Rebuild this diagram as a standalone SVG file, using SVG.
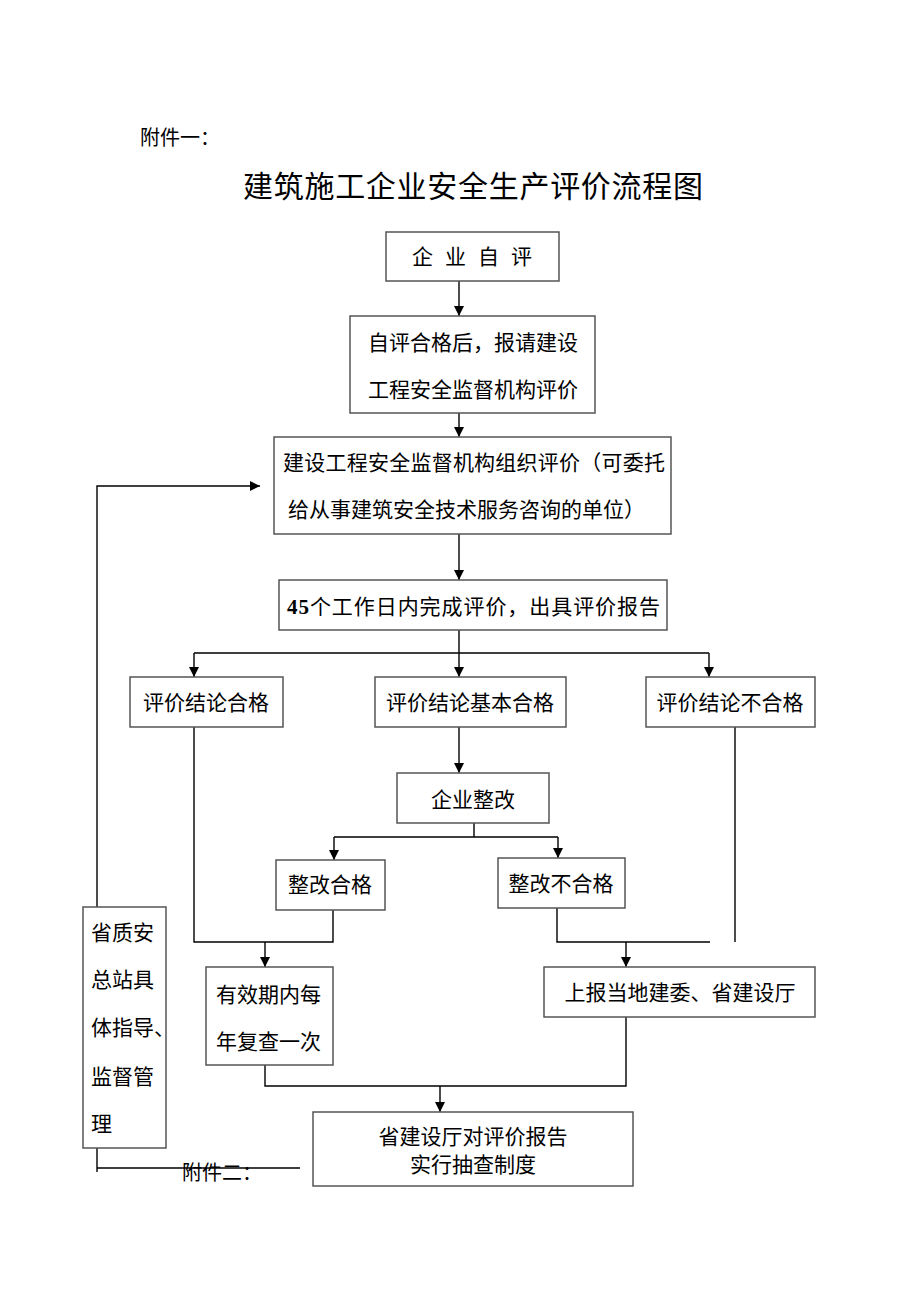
<svg xmlns="http://www.w3.org/2000/svg" width="920" height="1302" viewBox="0 0 920 1302">
<style>
text{font-family:"Noto Sans CJK SC","Noto Sans",sans-serif;font-size:21px;fill:#000}
.c{text-anchor:middle}
.box{fill:#fff;stroke:#555;stroke-width:1.5}
.ln{fill:none;stroke:#000;stroke-width:1.4}
</style>
<defs>
<marker id="ah" viewBox="0 0 10 10" refX="10" refY="5" markerWidth="10" markerHeight="10" markerUnits="userSpaceOnUse" orient="auto">
<path d="M0,0 L10,5 L0,10 z" fill="#000"/>
</marker>
</defs>
<rect width="920" height="1302" fill="#fff"/>
<text x="140" y="145" style="font-size:20px">附件一：</text>
<text x="473" y="197" class="c" style="font-size:30px" textLength="460">建筑施工企业安全生产评价流程图</text>

<g id="connectors">
<path class="ln" d="M459,281 V316" marker-end="url(#ah)"/>
<path class="ln" d="M459,413 V437" marker-end="url(#ah)"/>
<path class="ln" d="M459,534 V580" marker-end="url(#ah)"/>
<path class="ln" d="M459,630 V653 M194,653 H709"/>
<path class="ln" d="M194,653 V677" marker-end="url(#ah)"/>
<path class="ln" d="M459,653 V677" marker-end="url(#ah)"/>
<path class="ln" d="M709,653 V677" marker-end="url(#ah)"/>
<path class="ln" d="M459,727 V773" marker-end="url(#ah)"/>
<path class="ln" d="M474,823 V837 M334,837 H558"/>
<path class="ln" d="M334,837 V860" marker-end="url(#ah)"/>
<path class="ln" d="M558,837 V858" marker-end="url(#ah)"/>
<path class="ln" d="M194,727 V942 H333 V910"/>
<path class="ln" d="M265,942 V967" marker-end="url(#ah)"/>
<path class="ln" d="M557,908 V942 H710"/>
<path class="ln" d="M735,727 V942"/>
<path class="ln" d="M626,942 V967" marker-end="url(#ah)"/>
<path class="ln" d="M265,1065 V1086 H626 V1017"/>
<path class="ln" d="M440,1086 V1112" marker-end="url(#ah)"/>
<path class="ln" d="M97,907 V486 H260" marker-end="url(#ah)"/>
<path class="ln" d="M97,1148 V1172 M97,1168 H300"/>
</g>

<g id="n1"><rect class="box" x="386" y="232" width="173" height="49"/><text x="472" y="264" class="c" textLength="120">企 业 自 评</text></g>
<g id="n2"><rect class="box" x="350" y="316" width="245" height="97"/><text x="473" y="350" class="c">自评合格后，报请建设</text><text x="473" y="397" class="c">工程安全监督机构评价</text></g>
<g id="n3"><rect class="box" x="274" y="437" width="397" height="97"/><text x="283" y="470" textLength="382">建设工程安全监督机构组织评价（可委托</text><text x="288" y="517">给从事建筑安全技术服务咨询的单位）</text></g>
<g id="n4"><rect class="box" x="279" y="580" width="388" height="50"/><text x="287" y="614" textLength="373"><tspan style="font-family:'Liberation Serif',serif;font-weight:bold">45</tspan>个工作日内完成评价，出具评价报告</text></g>
<g id="n5"><rect class="box" x="130" y="677" width="153" height="50"/><text x="206" y="710" class="c">评价结论合格</text></g>
<g id="n6"><rect class="box" x="375" y="677" width="191" height="50"/><text x="470" y="710" class="c">评价结论基本合格</text></g>
<g id="n7"><rect class="box" x="646" y="677" width="169" height="50"/><text x="730" y="710" class="c">评价结论不合格</text></g>
<g id="n8"><rect class="box" x="397" y="773" width="152" height="50"/><text x="473" y="807" class="c">企业整改</text></g>
<g id="n9"><rect class="box" x="276" y="860" width="109" height="50"/><text x="330" y="892" class="c">整改合格</text></g>
<g id="n10"><rect class="box" x="498" y="858" width="127" height="50"/><text x="561" y="891" class="c">整改不合格</text></g>
<g id="n11"><rect class="box" x="206" y="967" width="127" height="98"/><text x="216" y="1002">有效期内每</text><text x="216" y="1049">年复查一次</text></g>
<g id="n12"><rect class="box" x="544" y="967" width="271" height="50"/><text x="680" y="1000" class="c">上报当地建委、省建设厅</text></g>
<g id="n13"><rect class="box" x="313" y="1112" width="320" height="74"/><text x="473" y="1144" class="c">省建设厅对评价报告</text><text x="473" y="1172" class="c">实行抽查制度</text></g>
<g id="n14"><rect class="box" x="83" y="907" width="83" height="241"/>
<text x="91" y="940">省质安</text><text x="91" y="987">总站具</text><text x="91" y="1035">体指导、</text><text x="91" y="1084">监督管</text><text x="91" y="1131">理</text></g>
<text x="182" y="1180" style="font-size:20px">附件二：</text>
</svg>
